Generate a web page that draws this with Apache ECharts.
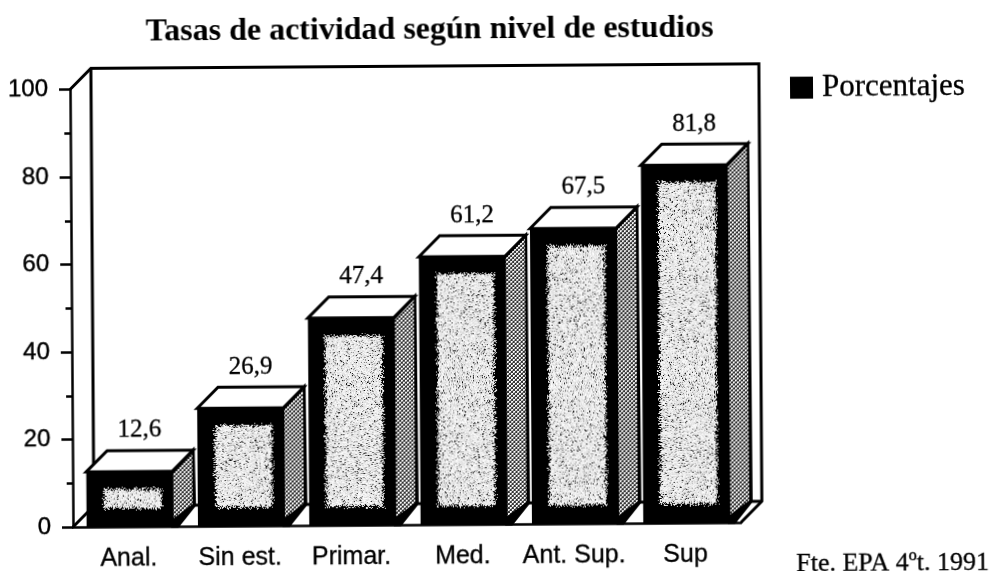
<!DOCTYPE html>
<html><head><meta charset="utf-8">
<script src="https://cdn.jsdelivr.net/npm/echarts@6/dist/echarts.min.js"></script>
<style>html,body{margin:0;padding:0;background:#fff;width:997px;height:571px;overflow:hidden}
#c{width:1020px;height:600px;transform-origin:73px 527px;transform:rotate(-0.39deg)}</style>
</head><body><div id="c"></div>
<script>
const categories = ['Anal.', 'Sin est.', 'Primar.', 'Med.', 'Ant. Sup.', 'Sup'];
const values = [12.6, 26.9, 47.4, 61.2, 67.5, 81.8];
const valueLabels = ['12,6', '26,9', '47,4', '61,2', '67,5', '81,8'];
const seriesName = 'Porcentajes';
const titleText = 'Tasas de actividad según nivel de estudios';
const sourceText = 'Fte. EPA 4ºt. 1991';

const DEPTH = 21, BAR_RATIO = 0.773, BAR_SHIFT = 1;
const SERIF = '"Liberation Serif", serif', SANS = '"Liberation Sans", sans-serif';

// printed-screen textures (appearance only, no data)
function hatch() {
  const cv = document.createElement('canvas'); cv.width = cv.height = 4;
  const g = cv.getContext('2d');
  g.fillStyle = '#333'; g.fillRect(0, 0, 4, 4);
  g.fillStyle = '#fff'; g.fillRect(0, 0, 2, 2); g.fillRect(2, 2, 2, 2);
  g.fillStyle = '#999'; g.fillRect(1, 1, 1, 1); g.fillRect(3, 3, 1, 1);
  return cv;
}
const hatchPattern = { image: hatch(), repeat: 'repeat' };
const stippleCache = {};
function stipple(i, w, h) {
  const key = i + ':' + w + ':' + h;
  if (stippleCache[key]) return stippleCache[key];
  const cv = document.createElement('canvas'); cv.width = w; cv.height = h;
  const g = cv.getContext('2d'), im = g.createImageData(w, h);
  let s = 12345 + i * 977;
  const rnd = () => {
    s = (s + 0x6D2B79F5) | 0;
    let t = Math.imul(s ^ (s >>> 15), 1 | s);
    t = (t + Math.imul(t ^ (t >>> 7), 61 | t)) ^ t;
    return ((t ^ (t >>> 14)) >>> 0) / 4294967296;
  };
  for (let y = 0; y < h; y++) for (let x = 0; x < w; x++) {
    const t = Math.min(1, Math.min(x, y, w - 1 - x, h - 1 - y) / 6);
    const p = (x + y * w) * 4;
    let v = 0, a = 0;
    if (rnd() < t * t * (3 - 2 * t) * 0.97) {
      v = 215 + rnd() * 40; a = 255;
      if (rnd() < 0.12) v = 110 + rnd() * 60;
    }
    im.data[p] = im.data[p + 1] = im.data[p + 2] = v; im.data[p + 3] = a;
  }
  g.putImageData(im, 0, 0);
  return stippleCache[key] = cv;
}

function renderBar(params, api) {
  const i = api.value(0), v = api.value(1);
  const base = api.coord([i, 0]), topPt = api.coord([i, v]);
  const bw = api.size([1, 0])[0] * BAR_RATIO;
  const cx = base[0] + BAR_SHIFT;
  const l = cx - bw / 2, r = cx + bw / 2, t = topPt[1], b = base[1], d = DEPTH;
  const ix = Math.round(l + 14), iy = Math.round(t + 14);
  const iw = Math.round(bw - 22), ih = Math.max(4, Math.round(b - 15 - iy));
  const black = { fill: '#000', stroke: '#000', lineWidth: 3, lineJoin: 'miter' };
  return {
    type: 'group',
    children: [
      { type: 'polygon', shape: { points: [[r, t], [r + d, t - d], [r + d + 1, b - d], [r + 5, b], [r, b]] }, style: black },
      { type: 'polygon', shape: { points: [[r + 1, t + 2], [r + d - 1, t - d + 3], [r + d - 1, b - d - 1], [r + 1, b - 8]] }, style: { fill: hatchPattern } },
      { type: 'rect', shape: { x: l, y: t, width: bw, height: b - t }, style: { fill: '#000' } },
      { type: 'image', style: { image: stipple(i, iw, ih), x: ix, y: iy, width: iw, height: ih } },
      { type: 'polygon', shape: { points: [[l, t], [l + d, t - d], [r + d, t - d], [r, t]] }, style: { fill: '#fff', stroke: '#000', lineWidth: 3, lineJoin: 'miter' } },
      { type: 'text', style: { text: valueLabels[i], x: cx + d / 2, y: t - d - 20, align: 'center', verticalAlign: 'middle', font: '25px ' + SERIF, fill: '#000', stroke: '#000', lineWidth: 0.3 } }
    ]
  };
}

function renderWalls(params, api) {
  const c = params.coordSys, x0 = c.x, x1 = c.x + c.width, y0 = c.y + c.height, yt = c.y, d = DEPTH;
  const st = { stroke: '#000', lineWidth: 3, fill: null };
  const line = pts => ({ type: 'polyline', shape: { points: pts }, style: st });
  return {
    type: 'group',
    children: [
      line([[x0, yt], [x0 + d, yt - d], [x1 + d, yt - d], [x1 + d, y0 - d], [x1, y0]]),
      line([[x0 + d, yt - d], [x0 + d, y0 - d], [x0, y0]]),
      line([[x0 + d, y0 - d], [x1 + d, y0 - d]])
    ]
  };
}

const chart = echarts.init(document.getElementById('c'), null, { renderer: 'canvas' });
chart.setOption({
  animation: false,
  backgroundColor: '#fff',
  title: [
    { text: titleText, left: 428, top: 12, textAlign: 'center', textStyle: { fontFamily: SERIF, fontWeight: 'bold', fontSize: 32, color: '#000' } },
    { text: sourceText, left: 791, top: 551, textStyle: { fontFamily: SERIF, fontWeight: 'normal', fontSize: 26, color: '#000', textBorderColor: '#000', textBorderWidth: 0.3 } }
  ],
  legend: {
    left: 788, top: 72, icon: 'rect', itemWidth: 23, itemHeight: 22, itemGap: 0,
    data: [{ name: seriesName, itemStyle: { color: '#000' } }],
    textStyle: { fontFamily: SERIF, fontSize: 31, color: '#000', padding: [0, 0, 0, 4], textBorderColor: '#000', textBorderWidth: 0.3 }
  },
  grid: { left: 73, right: 1020 - 741, top: 89.5, bottom: 600 - 527, containLabel: false },
  xAxis: {
    type: 'category', data: categories, boundaryGap: true,
    axisLine: { lineStyle: { color: '#000', width: 2.5 } },
    axisTick: { length: 6, lineStyle: { color: '#000', width: 2.5 } },
    axisLabel: { interval: 0, margin: 20, fontFamily: SANS, fontSize: 25, color: '#000', textBorderColor: '#000', textBorderWidth: 0.3 }
  },
  yAxis: {
    type: 'value', min: 0, max: 100, interval: 20,
    splitLine: { show: false },
    axisLine: { show: true, lineStyle: { color: '#000', width: 2.5 } },
    axisTick: { show: true, length: 11, lineStyle: { color: '#000', width: 2.5 } },
    minorTick: { show: true, splitNumber: 2, length: 6, lineStyle: { color: '#000', width: 2.5 } },
    axisLabel: { margin: 22, fontFamily: SANS, fontSize: 24, color: '#000', textBorderColor: '#000', textBorderWidth: 0.4 }
  },
  series: [
    { type: 'custom', name: 'walls', silent: true, clip: false, z: 1, renderItem: renderWalls, data: [[0, 0]], encode: { x: 0, y: 1 } },
    { type: 'custom', name: seriesName, silent: true, clip: false, z: 2, renderItem: renderBar, itemStyle: { color: '#000' },
      data: values.map((v, i) => [i, v]), encode: { x: 0, y: 1 } }
  ]
});
</script></body></html>
